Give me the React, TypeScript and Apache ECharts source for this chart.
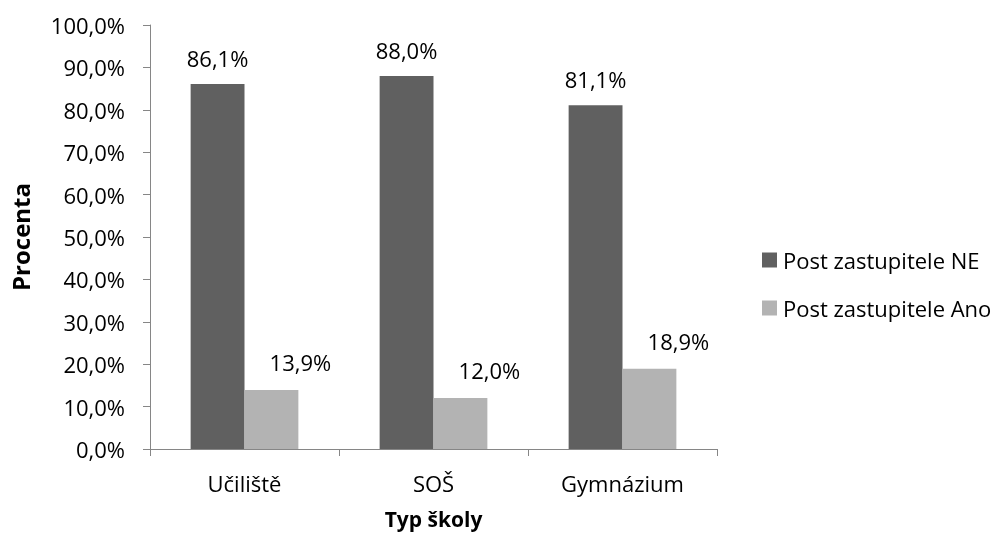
import React, { useEffect, useRef } from "react";
import * as echarts from "echarts";

const categories = ["Učiliště", "SOŠ", "Gymnázium"];
const seriesNames = ["Post zastupitele NE", "Post zastupitele Ano"];
const valuesNe = [86.1, 88.0, 81.1];
const valuesAno = [13.9, 12.0, 18.9];

const FONT = "'Open Sans', sans-serif";
const FS = 22;
const fmt = (v: number) => v.toFixed(1).replace(".", ",") + "%";

export default function App() {
  const ref = useRef<HTMLDivElement>(null);
  useEffect(() => {
    const chart = echarts.init(ref.current!, undefined, { renderer: "svg" });
    chart.setOption({
      animation: false,
      textStyle: { fontFamily: FONT, color: "#000" },
      grid: { left: 148, right: 288, top: 25, bottom: 87, containLabel: false },
      legend: {
        orient: "vertical",
        left: 757,
        top: 244,
        itemWidth: 15,
        itemHeight: 15,
        itemGap: 26,
        icon: "rect",
        textStyle: { fontFamily: FONT, fontSize: 22, color: "#000", padding: [0, 0, 0, 1] },
        data: seriesNames,
      },
      xAxis: {
        type: "category",
        data: categories,
        name: "Typ školy",
        nameLocation: "middle",
        nameGap: 59,
        nameTextStyle: { fontFamily: FONT, fontSize: 21, fontWeight: "bold", color: "#000" },
        axisLine: { lineStyle: { color: "#868686", width: 1 } },
        axisTick: { show: true, length: 7, lineStyle: { color: "#868686" } },
        axisLabel: { fontFamily: FONT, fontSize: FS, color: "#000", margin: 23 },
      },
      yAxis: {
        type: "value",
        min: 0,
        max: 100,
        interval: 10,
        name: "Procenta",
        nameLocation: "middle",
        nameGap: 118,
        nameTextStyle: { fontFamily: FONT, fontSize: 24, fontWeight: "bold", color: "#000" },
        axisLine: { show: true, lineStyle: { color: "#868686", width: 1 } },
        axisTick: { show: true, length: 7, inside: false, lineStyle: { color: "#868686" } },
        splitLine: { show: false },
        axisLabel: {
          fontFamily: FONT,
          fontSize: FS,
          color: "#000",
          margin: 25,
          formatter: (v: number) => fmt(v),
        },
      },
      series: [
        {
          name: seriesNames[0],
          type: "bar",
          data: valuesNe,
          barGap: "0%",
          barCategoryGap: "43%",
          itemStyle: { color: "#606060" },
          label: {
            show: true,
            position: "top",
            distance: 15,
            fontFamily: FONT,
            fontSize: FS,
            color: "#000",
            formatter: (p: any) => fmt(p.value),
          },
        },
        {
          name: seriesNames[1],
          type: "bar",
          data: valuesAno,
          itemStyle: { color: "#b3b3b3" },
          label: {
            show: true,
            position: "top",
            distance: 17,
            offset: [29, 0],
            fontFamily: FONT,
            fontSize: FS,
            color: "#000",
            formatter: (p: any) => fmt(p.value),
          },
        },
      ],
    });
    return () => chart.dispose();
  }, []);
  return (
    <div
      ref={ref}
      style={{ position: "fixed", left: 0, top: 0, width: 1005, height: 536 }}
    />
  );
}
